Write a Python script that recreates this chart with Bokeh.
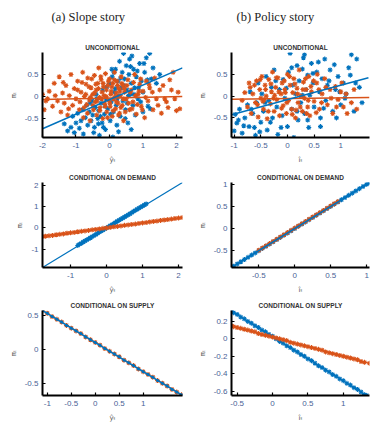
from bokeh.plotting import figure
from bokeh.layouts import column, row
from bokeh.models import FixedTicker, Range1d, Label
from bokeh.embed import file_html
from bokeh.resources import INLINE

BLUE = "#0072BD"
ORANGE = "#D95319"
TICK_COLOR = "#4a5f96"

# ---------------- data ----------------
COL_TITLES = ["(a) Slope story", "(b) Policy story"]
ROW_TITLES = ["UNCONDITIONAL", "CONDITIONAL ON DEMAND", "CONDITIONAL ON SUPPLY"]

# Panel 1: slope story, unconditional
p1_blue_x = [-1.35,-1.25,-1.15,-1.1,-1.05,-1.0,-0.95,-0.9,-0.85,-0.8,-0.78,-0.72,-0.68,-0.65,-0.6,-0.55,-0.52,-0.5,-0.45,-0.42,-0.4,-0.35,-0.32,-0.3,-0.25,-0.22,-0.2,-0.15,-0.12,-0.1,-0.05,0.0,0.02,0.05,0.08,0.1,0.12,0.15,0.18,0.2,0.22,0.25,0.28,0.3,0.32,0.35,0.38,0.4,0.42,0.45,0.48,0.5,0.52,0.55,0.58,0.6,0.62,0.65,0.7,0.72,0.75,0.8,0.85,0.9,0.95,1.0,1.05,1.1,1.15,1.2,1.25,1.3,1.4,1.5,1.0,0.65,-0.25,1.22,
             -0.58,-0.47,-0.38,-0.27,-0.18,-0.08,0.03,0.13,0.23,0.33,0.43,0.53,0.63,0.73,0.83,0.93,1.03,1.13,0.27,0.07,-0.13,0.47,0.67,0.87,-0.33,0.57,0.17,0.77]
p1_blue_y = [-0.62,-0.78,-0.70,-0.45,-0.82,-0.60,-0.38,-0.72,-0.55,-0.30,-0.85,-0.48,-0.20,-0.65,-0.35,-0.55,-0.10,-0.42,-0.70,-0.25,0.05,-0.50,-0.32,-0.88,-0.15,-0.60,0.15,-0.40,-0.75,-0.05,-0.28,0.30,-0.55,-0.12,0.45,-0.92,-0.35,0.10,0.62,-0.20,-0.65,0.35,0.02,0.80,-0.45,0.20,0.55,-0.10,0.98,0.40,-0.30,0.70,0.15,-0.60,0.50,0.85,0.05,0.30,-0.20,0.62,0.20,0.45,-0.05,0.75,0.35,0.10,0.55,0.88,-0.22,0.98,0.40,0.65,0.30,0.50,-0.35,-0.75,-0.98,-0.28,
             -0.15,-0.82,-0.05,-0.45,-0.70,0.22,-0.40,0.55,-0.05,0.42,0.25,-0.15,0.68,0.05,0.58,-0.12,0.75,0.38,-0.80,0.62,-0.22,-0.50,0.92,0.20,-0.62,0.02,0.18,-0.42]
p1_orange_x = [-2.1,-2.0,-1.95,-1.85,-1.8,-1.7,-1.65,-1.55,-1.5,-1.45,-1.4,-1.35,-1.3,-1.25,-1.2,-1.15,-1.1,-1.05,-1.0,-0.95,-0.9,-0.85,-0.8,-0.78,-0.75,-0.7,-0.68,-0.65,-0.6,-0.58,-0.55,-0.5,-0.48,-0.45,-0.42,-0.4,-0.38,-0.35,-0.32,-0.3,-0.28,-0.25,-0.22,-0.2,-0.18,-0.15,-0.12,-0.1,-0.08,-0.05,-0.02,0.0,0.02,0.05,0.08,0.1,0.12,0.15,0.18,0.2,0.22,0.25,0.28,0.3,0.32,0.35,0.38,0.4,0.42,0.45,0.5,0.55,0.6,0.65,0.7,0.75,0.8,0.85,0.9,0.95,1.0,1.05,1.1,1.15,1.2,1.3,1.35,1.4,1.5,1.55,1.6,1.7,1.75,1.8,1.9,1.95,2.0,2.05,2.1,
               -0.95,-0.88,-0.82,-0.76,-0.71,-0.66,-0.61,-0.57,-0.53,-0.49,-0.44,-0.41,-0.37,-0.33,-0.29,-0.26,-0.23,-0.19,-0.16,-0.13,-0.09,-0.06,-0.03,0.01,0.04,0.07,0.11,0.14,0.17,0.21,0.24,0.27,0.31,0.34,0.37,0.41,0.44,0.47,0.52,0.57,0.62,0.67,0.72,0.78,0.83,0.88,0.93,0.98,1.08,1.18,1.28,1.45,-1.22,-1.38,-1.62,1.65,1.85,-1.9]
p1_orange_y = [-0.18,0.05,-0.30,-0.05,0.12,-0.22,0.30,-0.10,0.45,-0.35,0.08,-0.15,0.25,-0.42,0.02,0.50,-0.20,0.18,-0.05,0.35,-0.30,0.10,0.55,-0.48,0.00,0.28,-0.18,0.42,-0.08,-0.55,0.20,0.05,-0.30,0.48,-0.12,0.15,-0.42,0.30,0.65,-0.02,-0.25,0.38,0.10,-0.50,0.22,-0.15,0.52,0.00,-0.35,0.25,-0.08,0.40,-0.22,0.12,-0.45,0.30,-0.05,0.55,-0.28,0.08,0.35,-0.15,0.18,-0.38,0.02,0.45,-0.20,0.25,-0.55,0.10,-0.05,0.38,-0.30,0.15,-0.12,0.50,-0.40,0.05,0.28,-0.22,0.12,-0.48,0.35,-0.10,0.20,-0.30,0.42,-0.05,0.15,-0.38,0.25,-0.12,-0.25,0.38,0.55,-0.05,-0.32,0.10,-0.28,
               0.15,-0.12,0.32,-0.25,0.05,-0.38,0.22,-0.02,0.40,-0.20,0.08,0.28,-0.10,0.18,-0.32,0.45,-0.05,0.30,0.02,-0.22,0.15,-0.48,0.35,-0.15,0.05,0.22,-0.32,0.38,0.00,-0.12,0.25,-0.42,0.12,-0.25,0.30,-0.05,0.18,-0.35,0.25,-0.15,0.10,-0.28,0.32,0.02,-0.18,0.12,0.40,-0.30,-0.02,0.28,0.10,-0.20,-0.28,0.32,0.02,-0.05,0.15,-0.10]
p1_blue_fit_x = [-2.0, 2.18]
p1_blue_fit_y = [-0.73, 0.65]
p1_orange_fit_x = [-2.0, 2.18]
p1_orange_fit_y = [-0.07, 0.0]

# Panel 2: policy story, unconditional
p2_blue_x = [-1.0,-0.98,-0.95,-0.9,-0.85,-0.8,-0.75,-0.72,-0.7,-0.65,-0.6,-0.58,-0.55,-0.5,-0.48,-0.45,-0.4,-0.38,-0.35,-0.3,-0.28,-0.25,-0.2,-0.18,-0.15,-0.1,-0.08,-0.05,0.0,0.02,0.05,0.08,0.1,0.12,0.15,0.18,0.2,0.22,0.25,0.28,0.3,0.32,0.35,0.38,0.4,0.42,0.45,0.48,0.5,0.55,0.6,0.62,0.65,0.7,0.72,0.75,0.8,0.85,0.9,0.95,1.0,1.05,1.1,1.15,1.2,1.25,1.3,1.35,1.4,
             -0.92,-0.82,-0.68,-0.52,-0.42,-0.32,-0.22,-0.12,-0.02,0.08,0.18,0.28,0.38,0.48,0.58,0.68,0.78,0.88,0.98,1.08,1.18,1.28,-0.62,0.32,0.62,0.92]
p2_blue_y = [-0.80,-0.42,-0.62,-0.30,-0.85,-0.50,-0.20,-0.70,0.10,-0.40,-0.90,-0.15,0.30,-0.60,0.05,-0.35,0.45,-0.78,-0.10,0.20,-0.50,0.60,-0.25,-0.88,0.15,-0.45,0.38,-0.05,-0.70,0.55,0.98,-0.30,0.25,-0.95,0.05,0.70,-0.55,0.35,-0.15,0.62,0.88,-0.40,0.15,0.48,-0.72,0.02,0.75,0.30,-0.25,0.55,0.10,-0.50,0.40,0.85,-0.10,0.25,0.60,-0.35,0.15,0.45,-0.20,0.30,0.05,0.65,0.95,-0.35,0.85,0.20,-0.15,
             -0.55,-0.68,-0.30,-0.82,-0.15,-0.60,0.35,-0.72,0.18,0.65,-0.35,0.02,-0.55,0.52,0.78,-0.28,0.35,0.72,0.10,-0.05,0.48,0.30,-0.72,0.95,-0.70,-0.50]
p2_orange_x = [-0.85,-0.8,-0.75,-0.7,-0.68,-0.65,-0.6,-0.58,-0.55,-0.52,-0.5,-0.48,-0.45,-0.42,-0.4,-0.38,-0.35,-0.32,-0.3,-0.28,-0.25,-0.22,-0.2,-0.18,-0.15,-0.12,-0.1,-0.08,-0.05,-0.02,0.0,0.02,0.05,0.08,0.1,0.12,0.15,0.18,0.2,0.22,0.25,0.28,0.3,0.32,0.35,0.38,0.4,0.42,0.45,0.5,0.55,0.6,0.65,0.7,0.75,0.8,0.85,0.9,0.95,1.0,1.05,1.1,1.2,1.25,1.3,
               -0.62,-0.56,-0.51,-0.46,-0.41,-0.36,-0.31,-0.26,-0.21,-0.16,-0.11,-0.06,-0.01,0.04,0.09,0.14,0.19,0.24,0.29,0.34,0.39,0.44,0.49,0.54,0.59,0.64,0.72,0.82,0.92,1.02,1.12,-0.72,-0.44,-0.24,-0.04,0.16,0.36,0.56]
p2_orange_y = [-0.10,0.08,-0.25,0.20,-0.40,0.05,-0.15,0.35,-0.48,0.15,-0.05,0.45,-0.30,0.25,0.00,-0.52,0.38,-0.18,0.10,0.55,-0.35,0.20,-0.08,0.42,-0.45,0.05,0.30,-0.22,0.15,-0.40,0.50,-0.10,0.25,-0.30,0.08,0.40,-0.50,0.18,-0.15,0.60,0.00,-0.35,0.32,-0.05,0.15,-0.25,0.45,-0.45,0.10,-0.12,0.30,-0.30,0.05,0.40,-0.20,0.15,-0.40,0.22,-0.08,0.10,-0.25,0.05,-0.15,0.15,-0.30,
               0.25,-0.20,0.38,-0.12,0.15,-0.35,0.28,-0.05,0.42,0.10,-0.28,0.35,-0.15,0.45,-0.42,0.28,0.05,-0.25,0.15,0.40,-0.10,0.22,0.35,-0.38,0.15,-0.15,0.20,-0.05,-0.25,0.30,-0.40,0.30,-0.08,0.02,0.08,-0.32,-0.40,0.50]
p2_blue_fit_x = [-1.05, 1.52]
p2_blue_fit_y = [-0.43, 0.42]
p2_orange_fit_x = [-1.05, 1.54]
p2_orange_fit_y = [-0.07, -0.03]

# Panel 3: slope story, conditional on demand
p3_blue_x = [-0.8,-0.75,-0.7,-0.65,-0.6,-0.55,-0.5,-0.45,-0.4,-0.35,-0.3,-0.25,-0.2,-0.15,-0.1,-0.05,0.0,0.05,0.1,0.15,0.2,0.25,0.3,0.35,0.4,0.45,0.5,0.55,0.6,0.65,0.7,0.75,0.8,0.85,0.9,0.95,1.0,1.05,1.1]
p3_blue_y = [-0.82,-0.76,-0.72,-0.66,-0.61,-0.56,-0.51,-0.46,-0.41,-0.36,-0.31,-0.26,-0.2,-0.15,-0.1,-0.05,0.0,0.05,0.1,0.15,0.2,0.26,0.31,0.36,0.41,0.46,0.51,0.56,0.61,0.66,0.71,0.77,0.82,0.87,0.92,0.97,1.02,1.07,1.12]
p3_orange_x = [-1.78,-1.7,-1.6,-1.5,-1.4,-1.3,-1.2,-1.1,-1.0,-0.9,-0.8,-0.7,-0.6,-0.5,-0.4,-0.3,-0.2,-0.1,0.0,0.1,0.2,0.3,0.4,0.5,0.6,0.7,0.8,0.9,1.0,1.1,1.2,1.3,1.4,1.5,1.6,1.7,1.8,1.9,2.0,2.1]
p3_orange_y = [-0.41,-0.39,-0.37,-0.35,-0.32,-0.30,-0.28,-0.25,-0.23,-0.21,-0.18,-0.16,-0.14,-0.12,-0.09,-0.07,-0.05,-0.02,0.0,0.02,0.05,0.07,0.09,0.12,0.14,0.16,0.18,0.21,0.23,0.25,0.28,0.30,0.32,0.35,0.37,0.39,0.41,0.44,0.46,0.48]
p3_blue_fit_x = [-1.78, 2.11]
p3_blue_fit_y = [-1.85, 2.12]
p3_orange_fit_x = [-1.78, 2.11]
p3_orange_fit_y = [-0.41, 0.48]

# Panel 4: policy story, conditional on demand
p4_blue_x = [-0.88,-0.85,-0.8,-0.75,-0.7,-0.65,-0.6,-0.55,-0.5,-0.45,-0.4,-0.35,-0.3,-0.25,-0.2,-0.15,-0.1,-0.05,0.0,0.05,0.1,0.15,0.2,0.25,0.3,0.35,0.4,0.45,0.5,0.55,0.6,0.65,0.7,0.75,0.8,0.85,0.9,0.95,1.0,1.03]
p4_blue_y = [-0.88,-0.85,-0.8,-0.75,-0.7,-0.65,-0.6,-0.55,-0.5,-0.45,-0.4,-0.35,-0.3,-0.25,-0.2,-0.15,-0.1,-0.05,0.0,0.05,0.1,0.15,0.2,0.25,0.3,0.35,0.4,0.45,0.5,0.55,0.6,0.65,0.7,0.75,0.8,0.85,0.9,0.95,1.0,1.03]
p4_orange_x = [-0.5,-0.45,-0.4,-0.35,-0.3,-0.25,-0.2,-0.15,-0.1,-0.05,0.0,0.05,0.1,0.15,0.2,0.25,0.3,0.35,0.4,0.45,0.5,0.55,0.6]
p4_orange_y = [-0.49,-0.44,-0.39,-0.34,-0.29,-0.24,-0.19,-0.14,-0.09,-0.04,0.01,0.06,0.11,0.16,0.21,0.26,0.31,0.36,0.41,0.46,0.51,0.56,0.61]
p4_blue_fit_x = [-0.88, 1.04]
p4_blue_fit_y = [-0.88, 1.04]

# Panel 5: slope story, conditional on supply
p5_x = [-1.1,-1.0,-0.9,-0.8,-0.7,-0.6,-0.5,-0.4,-0.3,-0.2,-0.1,0.0,0.1,0.2,0.3,0.4,0.5,0.6,0.7,0.8,0.9,1.0,1.1,1.2,1.3,1.4,1.5,1.6,1.7,1.8]
p5_y = [0.57,0.53,0.48,0.44,0.40,0.35,0.31,0.27,0.23,0.18,0.14,0.10,0.06,0.01,-0.03,-0.07,-0.11,-0.16,-0.20,-0.24,-0.29,-0.33,-0.37,-0.41,-0.46,-0.50,-0.54,-0.59,-0.63,-0.67]
p5_fit_x = [-1.1, 1.82]
p5_fit_y = [0.57, -0.68]

# Panel 6: policy story, conditional on supply
p6_blue_x = [-0.58,-0.55,-0.5,-0.45,-0.4,-0.35,-0.3,-0.25,-0.2,-0.15,-0.1,-0.05,0.0,0.05,0.1,0.15,0.2,0.25,0.3,0.35,0.4,0.45,0.5,0.55,0.6,0.65,0.7,0.75,0.8,0.85,0.9,0.95,1.0,1.05,1.1,1.15,1.2,1.25,1.3,1.33]
p6_blue_y = [0.32,0.30,0.28,0.25,0.23,0.20,0.18,0.15,0.13,0.10,0.08,0.05,0.03,0.00,-0.03,-0.05,-0.08,-0.10,-0.13,-0.15,-0.18,-0.20,-0.23,-0.25,-0.28,-0.31,-0.33,-0.36,-0.38,-0.41,-0.43,-0.46,-0.48,-0.51,-0.53,-0.56,-0.58,-0.61,-0.64,-0.65]
p6_orange_x = [-0.58,-0.55,-0.5,-0.45,-0.4,-0.35,-0.3,-0.25,-0.2,-0.15,-0.1,-0.05,0.0,0.05,0.1,0.15,0.2,0.25,0.3,0.35,0.4,0.45,0.5,0.55,0.6,0.65,0.7,0.75,0.8,0.85,0.9,0.95,1.0,1.05,1.1,1.15,1.2,1.25,1.3,1.37]
p6_orange_y = [0.15,0.14,0.13,0.12,0.11,0.10,0.09,0.08,0.06,0.05,0.04,0.03,0.02,0.01,0.00,-0.01,-0.02,-0.04,-0.05,-0.06,-0.07,-0.08,-0.09,-0.10,-0.11,-0.12,-0.13,-0.15,-0.16,-0.17,-0.18,-0.19,-0.20,-0.21,-0.22,-0.23,-0.24,-0.26,-0.27,-0.28]
p6_blue_fit_x = [-0.58, 1.33]
p6_blue_fit_y = [0.32, -0.65]
p6_orange_fit_x = [-0.58, 1.37]
p6_orange_fit_y = [0.15, -0.28]

# tick labels
P1_XT = [-2, -1, 0, 1, 2]
P1_YT = [-0.5, 0, 0.5]
P2_XT = [-1, -0.5, 0, 0.5, 1]
P2_YT = [-0.5, 0, 0.5]
P3_XT = [-1, 0, 1, 2]
P3_YT = [-1, 0, 1, 2]
P4_XT = [-0.5, 0, 0.5, 1]
P4_YT = [-0.5, 0, 0.5, 1]
P5_XT = [-1, -0.5, 0, 0.5, 1]
P5_YT = [-0.5, 0, 0.5]
P6_XT = [-0.5, 0, 0.5, 1]
P6_YT = [-0.6, -0.4, -0.2, 0, 0.2]

X_LABELS = ["ŷₜ", "îₜ"]
Y_LABEL = "πₜ"


def fmt(v):
    return "%g" % v


def make(title, xr, yr, xt, yt, xl, width, height, bl, br, bt, bb):
    p = figure(width=width, height=height, x_range=Range1d(*xr), y_range=Range1d(*yr),
               output_backend="svg", toolbar_location=None,
               min_border_left=bl, min_border_right=br, min_border_top=bt, min_border_bottom=bb)
    p.title.text = title
    p.title.align = "center"
    p.title.text_font = "Liberation Sans"
    p.title.text_font_size = "6.5px"
    p.title.text_font_style = "bold"
    p.title.text_color = "#333333"
    p.title.standoff = 3
    p.outline_line_color = None
    p.xgrid.visible = False
    p.ygrid.visible = False
    for ax in (p.xaxis[0], p.yaxis[0]):
        ax.axis_line_color = "black"
        ax.axis_line_width = 2
        ax.major_tick_in = 3
        ax.major_tick_out = 0
        ax.major_tick_line_color = "black"
        ax.major_tick_line_width = 1.2
        ax.minor_tick_line_color = None
        ax.major_label_text_font = "Liberation Sans"
        ax.major_label_text_font_size = "8px"
        ax.major_label_text_color = TICK_COLOR
        ax.axis_label_text_font = "DejaVu Sans"
        ax.axis_label_text_font_size = "7px"
        ax.axis_label_text_font_style = "normal"
        ax.axis_label_text_color = "#555555"
    p.xaxis.major_label_standoff = 5
    p.xaxis.axis_label_standoff = 5
    p.yaxis.major_label_standoff = 4
    p.yaxis.axis_label_standoff = 4
    p.xaxis.ticker = FixedTicker(ticks=xt)
    p.yaxis.ticker = FixedTicker(ticks=yt)
    p.xaxis.major_label_overrides = {v: fmt(v) for v in xt}
    p.yaxis.major_label_overrides = {v: fmt(v) for v in yt}
    p.xaxis.axis_label = xl
    p.yaxis.axis_label = Y_LABEL
    return p


MS = 5
LW = 1.1

LW_W, RW_W = 195, 189
LB, LR = 42, 13
RB, RR = 34, 15

# header strip with the two column titles
hdr = figure(width=384, height=30, x_range=Range1d(0, 1), y_range=Range1d(0, 1),
             output_backend="svg", toolbar_location=None, min_border=0)
hdr.axis.visible = False
hdr.grid.visible = False
hdr.outline_line_color = None
hdr.title.visible = False
for txt, xpos in zip(COL_TITLES, [51, 236]):
    hdr.add_layout(Label(x=xpos, y=14, x_units="screen", y_units="screen", text=txt,
                         text_font="Liberation Serif", text_font_size="12.5px",
                         text_baseline="middle", text_color="#222222"))

# row 1
p1 = make(ROW_TITLES[0], (-2.0, 2.18), (-0.93, 1.0), P1_XT, P1_YT, X_LABELS[0], LW_W, 138, LB, LR, 22, 31)
p1.scatter(p1_blue_x, p1_blue_y, marker="asterisk", size=MS, line_color=BLUE, line_width=LW)
p1.scatter(p1_orange_x, p1_orange_y, marker="asterisk", size=MS, line_color=ORANGE, line_width=LW)
p1.line(p1_orange_fit_x, p1_orange_fit_y, line_color=ORANGE, line_width=1.5)
p1.line(p1_blue_fit_x, p1_blue_fit_y, line_color=BLUE, line_width=1.5)

p2 = make(ROW_TITLES[0], (-1.05, 1.54), (-0.95, 1.0), P2_XT, P2_YT, X_LABELS[1], RW_W, 138, RB, RR, 22, 31)
p2.scatter(p2_blue_x, p2_blue_y, marker="asterisk", size=MS, line_color=BLUE, line_width=LW)
p2.scatter(p2_orange_x, p2_orange_y, marker="asterisk", size=MS, line_color=ORANGE, line_width=LW)
p2.line(p2_orange_fit_x, p2_orange_fit_y, line_color=ORANGE, line_width=1.5)
p2.line(p2_blue_fit_x, p2_blue_fit_y, line_color=BLUE, line_width=1.5)

# row 2
p3 = make(ROW_TITLES[1], (-1.78, 2.11), (-1.85, 2.12), P3_XT, P3_YT, X_LABELS[0], LW_W, 128, LB, LR, 14, 29)
p3.line(p3_blue_fit_x, p3_blue_fit_y, line_color=BLUE, line_width=1.2)
p3.scatter(p3_blue_x, p3_blue_y, marker="asterisk", size=MS, line_color=BLUE, line_width=LW)
p3.scatter(p3_orange_x, p3_orange_y, marker="asterisk", size=MS, line_color=ORANGE, line_width=LW)
p3.line(p3_orange_fit_x, p3_orange_fit_y, line_color=ORANGE, line_width=1.2)

p4 = make(ROW_TITLES[1], (-0.88, 1.04), (-0.88, 1.04), P4_XT, P4_YT, X_LABELS[1], RW_W, 128, RB, RR, 14, 29)
p4.scatter(p4_blue_x, p4_blue_y, marker="asterisk", size=MS, line_color=BLUE, line_width=LW)
p4.scatter(p4_orange_x, p4_orange_y, marker="asterisk", size=MS, line_color=ORANGE, line_width=LW)
p4.line(p4_blue_fit_x, p4_blue_fit_y, line_color=BLUE, line_width=1.5)

# row 3
p5 = make(ROW_TITLES[2], (-1.1, 1.82), (-0.68, 0.57), P5_XT, P5_YT, X_LABELS[0], LW_W, 128, LB, LR, 14, 29)
p5.scatter(p5_x, p5_y, marker="asterisk", size=MS, line_color=ORANGE, line_width=LW)
p5.scatter(p5_x, p5_y, marker="asterisk", size=MS - 2, line_color=BLUE, line_width=LW)
p5.line(p5_fit_x, p5_fit_y, line_color=BLUE, line_width=1.5)

p6 = make(ROW_TITLES[2], (-0.58, 1.37), (-0.65, 0.325), P6_XT, P6_YT, X_LABELS[1], RW_W, 128, RB, RR, 14, 29)
p6.scatter(p6_blue_x, p6_blue_y, marker="asterisk", size=MS, line_color=BLUE, line_width=LW)
p6.line(p6_blue_fit_x, p6_blue_fit_y, line_color=BLUE, line_width=1.2)
p6.scatter(p6_orange_x, p6_orange_y, marker="asterisk", size=MS, line_color=ORANGE, line_width=LW)
p6.line(p6_orange_fit_x, p6_orange_fit_y, line_color=ORANGE, line_width=1.2)

layout = column(hdr, row(p1, p2), row(p3, p4), row(p5, p6))

open("out.html", "w").write(file_html(layout, INLINE))
